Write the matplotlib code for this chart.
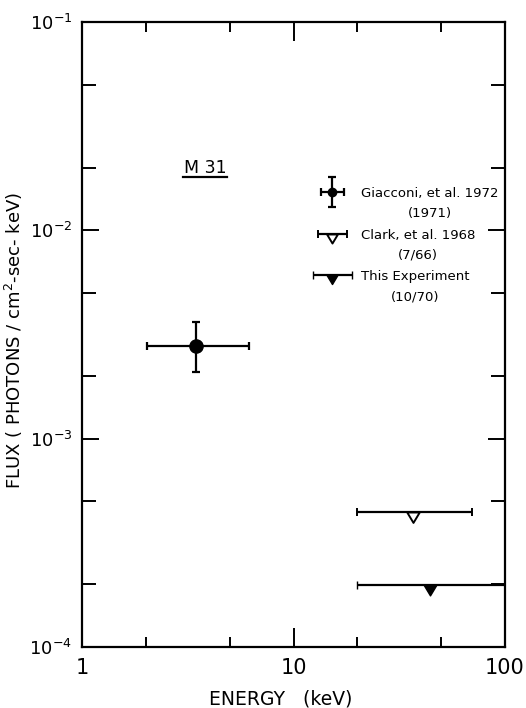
import numpy as np
import matplotlib
matplotlib.use("Agg")
import matplotlib.pyplot as plt
from matplotlib.path import Path
from matplotlib.ticker import LogLocator, NullFormatter, FixedLocator, FixedFormatter
from matplotlib.legend_handler import HandlerErrorbar
from matplotlib.lines import Line2D

plt.rcParams["font.family"] = "DejaVu Sans"
plt.rcParams["mathtext.fontset"] = "dejavusans"

# Giacconi et al. 1972 (1971)
giac_E = [3.46]
giac_Elo = [2.03]
giac_Ehi = [6.16]
giac_F = [2.78e-3]
giac_Flo = [2.09e-3]
giac_Fhi = [3.64e-3]

# Clark et al. 1968 (7/66)
clark_E = [36.7]
clark_Elo = [20.0]
clark_Ehi = [69.5]
clark_F = [4.45e-4]

# This experiment (10/70)
exp_E = [44.2]
exp_Elo = [20.0]
exp_Ehi = [100.0]
exp_F = [1.98e-4]

labels = ["Giacconi, et al. 1972\n(1971)", "Clark, et al. 1968\n(7/66)",
          "This Experiment\n(10/70)"]

# triangle hanging below the point (upper-limit style)
tri = Path([(-0.6, 0), (0.6, 0), (0, -1.0), (-0.6, 0)],
           [Path.MOVETO, Path.LINETO, Path.LINETO, Path.CLOSEPOLY])

fig = plt.figure(figsize=(5.26, 7.08), dpi=100)
ax = fig.add_axes([82/526, 1-647/708, 423/526, 625/708])
ax.set_xscale("log")
ax.set_yscale("log")
ax.set_xlim(1, 100)
ax.set_ylim(1e-4, 1e-1)

lw = 1.6
ekw = dict(ecolor="black", elinewidth=lw, capthick=lw, capsize=3.2)

g = ax.errorbar(giac_E, giac_F,
                xerr=[np.subtract(giac_E, giac_Elo), np.subtract(giac_Ehi, giac_E)],
                yerr=[np.subtract(giac_F, giac_Flo), np.subtract(giac_Fhi, giac_F)],
                fmt="o", color="black", ms=9.5, **ekw)
c = ax.errorbar(clark_E, clark_F,
                xerr=[np.subtract(clark_E, clark_Elo), np.subtract(clark_Ehi, clark_E)],
                fmt="", ls="none", marker=tri, ms=15, mfc="white", mec="black",
                mew=1.4, **ekw)
e = ax.errorbar(exp_E, exp_F,
                xerr=[np.subtract(exp_E, exp_Elo), np.subtract(exp_Ehi, exp_E)],
                fmt="", ls="none", marker=tri, ms=15, mfc="black", mec="black",
                mew=1.0, **ekw)


# legend symbols: smaller than the data points, level with the first text line
def shrink(size):
    def f(leg_h, orig_h):
        leg_h.update_from(orig_h)
        if isinstance(leg_h, Line2D) and leg_h.get_marker() not in ("|", "_"):
            leg_h.set_markersize(size)
    return f


class RaisedErrorbar(HandlerErrorbar):
    def __init__(self, up=0.0, **kw):
        super().__init__(**kw)
        self.up = up

    def create_artists(self, legend, orig_handle, xdescent, ydescent, width,
                       height, fontsize, trans):
        return super().create_artists(legend, orig_handle, xdescent,
                                      ydescent - 2 * self.up * fontsize,
                                      width, height, fontsize, trans)


leg = ax.legend([g, c, e], labels, loc="upper left",
                bbox_to_anchor=(0.546, 0.736), frameon=False, fontsize=9.5,
                borderpad=0, borderaxespad=0,
                handlelength=2.95, handletextpad=0.68, labelspacing=0.65,
                handler_map={g: RaisedErrorbar(up=0.9, xerr_size=0.87, yerr_size=1.17,
                                               update_func=shrink(6)),
                             c: RaisedErrorbar(up=0.9, xerr_size=1.1,
                                               update_func=shrink(13)),
                             e: RaisedErrorbar(up=0.9, xerr_size=1.45,
                                               update_func=shrink(13))})
for t in leg.get_texts():
    t.set_multialignment("center")
    t.set_linespacing(1.7)

# M 31 label, underlined
m31 = ax.text(0.291, 0.758, "M 31", transform=ax.transAxes, ha="center",
              va="baseline", fontsize=12.5)

# ticks
ax.xaxis.set_major_locator(FixedLocator([1, 10, 100]))
ax.xaxis.set_major_formatter(FixedFormatter(["1", "10", "100"]))
ax.xaxis.set_minor_locator(LogLocator(base=10, subs=(2, 5)))
ax.xaxis.set_minor_formatter(NullFormatter())
ax.yaxis.set_major_locator(FixedLocator([1e-4, 1e-3, 1e-2, 1e-1]))
ax.yaxis.set_major_formatter(FixedFormatter([r"$10^{-4}$", r"$10^{-3}$",
                                             r"$10^{-2}$", r"$10^{-1}$"]))
ax.yaxis.set_minor_locator(LogLocator(base=10, subs=(2, 5)))
ax.yaxis.set_minor_formatter(NullFormatter())
ax.tick_params(which="both", direction="in", top=True, right=True, width=1.4)
ax.tick_params(axis="x", which="major", length=14, labelsize=15, pad=8)
ax.tick_params(axis="x", which="minor", length=7)
ax.tick_params(axis="y", which="major", length=12, labelsize=13, pad=7)
ax.tick_params(axis="y", which="minor", length=10)
for s in ax.spines.values():
    s.set_linewidth(1.6)

ax.set_xlabel("ENERGY   (keV)", fontsize=13.5)
ax.xaxis.set_label_coords(0.47, -0.068)
ax.set_ylabel(r"FLUX ( PHOTONS / cm$^{2}$-sec- keV)", fontsize=13)
ax.yaxis.set_label_coords(-0.135, 0.491)

fig.canvas.draw()
bb = m31.get_window_extent()
base_y = ax.transAxes.transform((0.291, 0.758))[1] - 4
inv = fig.transFigure.inverted()
(x0, y0), (x1, _) = inv.transform([(bb.x0 - 1, base_y), (bb.x1 + 1, base_y)])
fig.add_artist(Line2D([x0, x1], [y0, y0], transform=fig.transFigure,
                      color="black", lw=1.6))

fig.savefig("out.png", dpi=100)
